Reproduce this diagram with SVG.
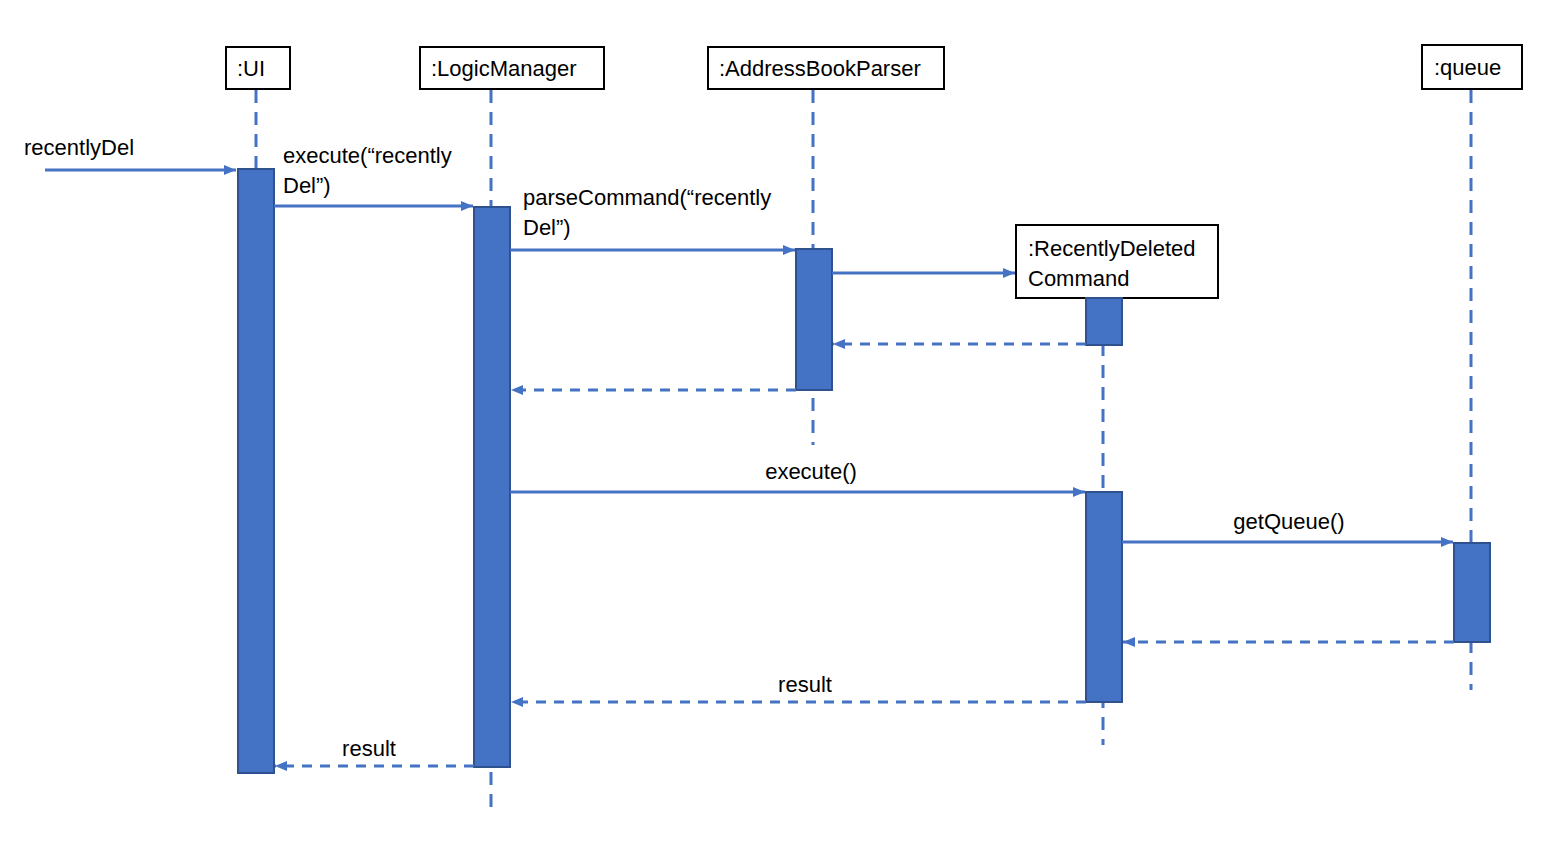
<svg xmlns="http://www.w3.org/2000/svg" width="1568" height="843" viewBox="0 0 1568 843">
<defs>
<marker id="ah" viewBox="0 0 12 10" refX="12" refY="5" markerWidth="12" markerHeight="10" markerUnits="userSpaceOnUse" orient="auto"><path d="M0,0 L12,5 L0,10 z" fill="#4472C4"/></marker>
</defs>
<style>
text{font-family:"Liberation Sans",Arial,sans-serif;font-size:22px;fill:#000}
.box{fill:#fff;stroke:#000;stroke-width:2}
.life{stroke:#4472C4;stroke-width:3;stroke-dasharray:13 9;fill:none}
.act{fill:#4472C4;stroke:#2F528F;stroke-width:2}
.msg{stroke:#4472C4;stroke-width:3;fill:none;marker-end:url(#ah)}
.ret{stroke:#4472C4;stroke-width:3;fill:none;stroke-dasharray:10 8;marker-end:url(#ah)}
</style>
<rect width="1568" height="843" fill="#fff"/>
<g id="lifelines">
<line class="life" x1="256" y1="90" x2="256" y2="168"/>
<line class="life" x1="491" y1="90" x2="491" y2="808"/>
<line class="life" x1="813" y1="90" x2="813" y2="445"/>
<line class="life" x1="1103" y1="299" x2="1103" y2="745"/>
<line class="life" x1="1471" y1="90" x2="1471" y2="690"/>
</g>
<g id="ui">
<rect class="box" x="226" y="47" width="64" height="42"/>
<text x="237" y="76">:UI</text>
<rect class="act" x="238" y="169" width="36" height="604"/>
</g>
<g id="logicmanager">
<rect class="box" x="420" y="47" width="184" height="42"/>
<text x="431" y="76">:LogicManager</text>
<rect class="act" x="474" y="207" width="36" height="560"/>
</g>
<g id="addressbookparser">
<rect class="box" x="708" y="47" width="236" height="42"/>
<text x="719" y="76">:AddressBookParser</text>
<rect class="act" x="796" y="249" width="36" height="141"/>
</g>
<g id="recentlydeletedcommand">
<rect class="box" x="1016" y="225" width="202" height="73"/>
<text x="1028" y="256">:RecentlyDeleted</text>
<text x="1028" y="286">Command</text>
<rect class="act" x="1086" y="298" width="36" height="47"/>
<rect class="act" x="1086" y="492" width="36" height="210"/>
</g>
<g id="queue">
<rect class="box" x="1422" y="45" width="100" height="44"/>
<text x="1434" y="75">:queue</text>
<rect class="act" x="1454" y="543" width="36" height="99"/>
</g>
<g id="connectors">
<line class="msg" x1="45" y1="170" x2="236" y2="170"/>
<line class="msg" x1="274" y1="206" x2="473" y2="206"/>
<line class="msg" x1="510" y1="250" x2="795" y2="250"/>
<line class="msg" x1="832" y1="273" x2="1015" y2="273"/>
<line class="ret" x1="1086" y1="344" x2="833" y2="344"/>
<line class="ret" x1="796" y1="390" x2="511" y2="390"/>
<line class="msg" x1="510" y1="492" x2="1085" y2="492"/>
<line class="msg" x1="1122" y1="542" x2="1453" y2="542"/>
<line class="ret" x1="1454" y1="642" x2="1123" y2="642"/>
<line class="ret" x1="1086" y1="702" x2="511" y2="702"/>
<line class="ret" x1="474" y1="766" x2="275" y2="766"/>
</g>
<g id="labels">
<text x="24" y="155">recentlyDel</text>
<text x="283" y="163">execute(“recently</text>
<text x="283" y="193">Del”)</text>
<text x="523" y="205">parseCommand(“recently</text>
<text x="523" y="235">Del”)</text>
<text x="811" y="479" text-anchor="middle">execute()</text>
<text x="1289" y="529" text-anchor="middle">getQueue()</text>
<text x="805" y="692" text-anchor="middle">result</text>
<text x="369" y="756" text-anchor="middle">result</text>
</g>
</svg>
